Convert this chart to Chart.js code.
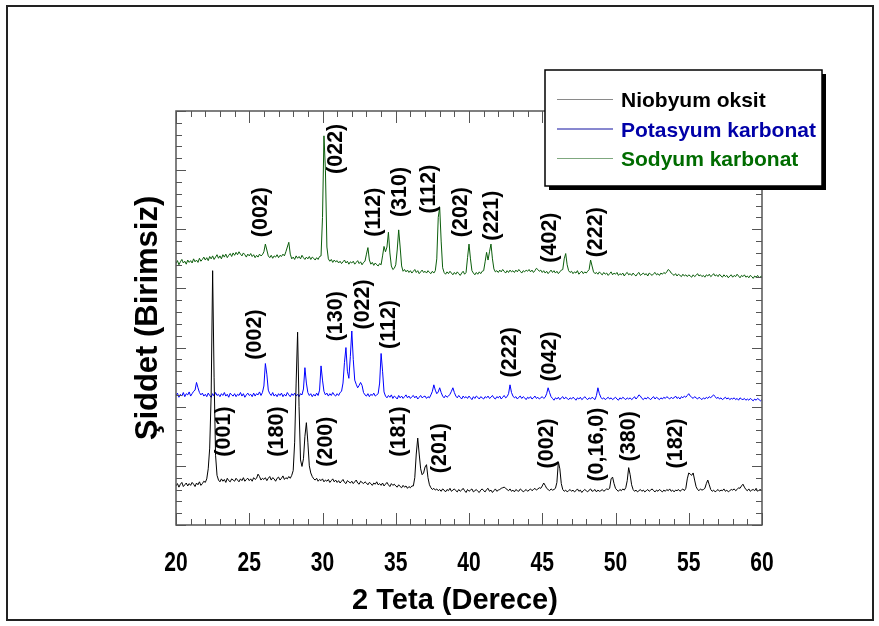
<!DOCTYPE html>
<html>
<head>
<meta charset="utf-8">
<script src="https://cdn.jsdelivr.net/npm/chart.js@4.4.1/dist/chart.umd.min.js"></script>
<style>
  html, body { margin: 0; padding: 0; background: #fff; overflow: hidden; }
  canvas { display: block; }
</style>
</head>
<body>
<canvas id="xrd" width="879" height="626"></canvas>
<script>
// XRD scans, sampled every 0.1 degree of 2-theta from 20 to 60
const twoThetaStart = 20;
const twoThetaStep = 0.1;

const niobyumOksit = [
  66,70,64,69,72,65,68,71,66,70,
  67,72,69,65,71,68,73,67,70,74,
  72,78,95,130,220,430,250,118,84,76,
  73,78,74,77,72,79,75,73,78,76,
  74,79,76,73,78,75,80,74,77,79,
  75,78,74,80,77,79,86,82,76,79,
  77,80,75,79,82,76,80,78,74,79,
  81,76,79,83,77,80,78,82,79,84,
  92,140,240,326,200,110,99,112,150,173,
  140,100,88,82,78,76,79,74,77,75,
  78,73,76,74,77,72,75,78,73,76,
  72,75,71,74,77,72,70,75,73,71,
  74,70,73,76,71,69,74,72,70,73,
  71,68,72,70,67,71,69,73,68,70,
  67,71,66,69,72,68,65,70,67,69,
  66,64,68,65,63,67,64,66,62,65,
  63,66,66,80,120,147,120,95,85,88,
  98,102,80,68,63,60,62,59,61,58,
  60,57,61,59,56,60,58,62,57,59,
  61,58,56,60,57,59,62,58,55,60,
  57,59,61,56,58,60,57,55,59,61,
  58,56,60,62,57,59,55,58,61,57,
  59,60,62,63,64,62,60,58,61,57,
  59,56,60,58,57,61,59,56,58,60,
  57,59,61,58,60,62,59,61,63,62,
  66,71,67,62,60,58,61,59,60,62,
  72,107,95,70,60,57,59,56,58,60,
  57,59,56,58,61,57,59,55,58,60,
  58,56,59,61,57,58,60,56,59,57,
  58,60,57,59,61,60,62,78,81,70,
  62,59,57,60,58,61,59,63,75,97,
  85,68,60,57,59,56,58,60,57,59,
  56,58,60,57,59,61,58,56,59,57,
  60,58,56,59,57,60,58,61,57,59,
  56,59,58,60,57,59,61,58,62,78,
  88,86,84,88,76,65,60,58,61,59,
  60,62,70,76,68,60,57,59,56,58,
  60,57,59,58,61,57,59,56,58,60,
  59,61,58,60,63,62,66,69,64,60,
  58,61,57,59,60,58,62,57,59,60,
  58
];

const potasyumKarbonat = [
  219,223,216,221,218,224,217,222,220,225,
  218,222,226,228,241,232,224,220,223,218,
  221,217,223,219,216,222,218,224,219,221,
  217,222,219,224,218,221,216,223,220,218,
  222,217,221,219,224,218,222,216,220,223,
  219,221,217,223,218,222,220,225,219,224,
  235,273,255,228,222,219,224,218,221,217,
  222,219,223,217,221,218,224,220,217,222,
  219,223,218,221,217,222,220,230,266,240,
  224,219,222,217,221,218,223,219,228,269,
  245,226,220,223,218,222,219,224,220,218,
  222,219,224,226,240,275,300,260,248,285,
  328,280,245,238,232,236,241,236,224,220,
  218,222,217,221,219,223,218,220,222,240,
  290,260,225,218,215,219,216,220,214,218,
  216,213,219,215,218,214,217,220,215,218,
  214,217,219,215,218,213,216,219,215,217,
  218,214,217,215,220,226,237,228,222,225,
  232,224,218,215,219,216,218,221,226,232,
  224,218,215,219,216,213,218,215,217,214,
  218,215,212,217,214,218,216,213,217,215,
  213,217,215,218,214,216,219,215,213,217,
  215,218,213,216,219,215,217,222,237,224,
  218,215,217,213,216,218,214,217,215,212,
  216,214,217,213,215,218,214,216,213,215,
  217,214,216,222,232,224,217,214,211,215,
  213,216,212,215,217,213,216,214,212,215,
  213,216,214,211,215,213,216,212,214,217,
  214,212,215,213,216,214,212,219,232,222,
  216,213,215,212,214,216,213,215,212,214,
  216,213,211,215,213,216,214,212,215,213,
  215,212,214,217,213,216,220,218,214,212,
  215,213,216,214,212,215,217,213,216,214,
  212,215,213,216,214,217,215,213,216,214,
  215,218,214,216,213,217,215,218,216,219,
  222,218,216,214,217,215,213,216,214,212,
  215,213,216,214,217,215,218,220,217,214,
  216,213,215,212,214,216,213,215,212,214,
  213,215,212,214,211,215,213,212,214,211,
  213,211,214,212,210,213,211,214,212,210,
  212
];

const sodyumKarbonat = [
  442,447,440,445,449,443,446,441,448,444,
  447,443,450,445,448,444,451,446,449,453,
  448,452,447,454,450,455,449,453,457,451,
  455,450,457,453,458,452,456,459,454,460,
  456,461,457,462,458,455,460,457,453,458,
  455,459,454,457,452,456,453,458,455,457,
  462,475,465,455,452,456,451,455,453,457,
  452,456,454,458,455,462,470,478,458,450,
  453,449,455,451,454,450,456,452,449,453,
  450,454,449,453,451,448,452,449,454,455,
  520,658,600,470,450,446,449,444,448,445,
  447,443,446,442,445,448,443,446,441,445,
  443,446,441,444,447,442,445,440,444,446,
  458,469,448,441,444,439,443,440,438,442,
  440,455,471,462,470,495,460,438,432,434,
  440,465,499,470,438,429,432,428,431,427,
  430,426,429,432,427,430,425,428,431,427,
  429,426,430,427,425,429,426,430,450,520,
  537,480,435,427,424,428,425,429,426,423,
  427,424,428,425,422,426,429,424,427,452,
  475,450,430,426,423,427,424,428,425,429,
  430,445,461,448,462,475,450,433,428,430,
  427,431,428,432,429,426,430,427,431,428,
  430,427,431,428,432,429,426,430,428,431,
  429,432,428,431,427,430,434,432,429,431,
  427,430,426,429,425,428,431,427,430,426,
  429,425,428,431,432,450,459,440,430,427,
  429,425,428,426,430,424,427,429,425,428,
  426,429,432,448,438,428,425,427,424,428,
  425,423,427,424,426,422,425,428,423,426,
  424,427,422,425,423,426,421,425,427,423,
  425,422,426,423,421,425,427,422,424,426,
  423,425,421,426,424,422,425,427,423,425,
  422,426,424,427,425,428,432,430,426,424,
  422,425,421,424,422,420,424,421,423,420,
  423,421,419,423,420,422,425,421,423,420,
  422,419,423,421,424,420,422,425,421,423,
  420,424,421,419,423,420,422,418,421,423,
  419,422,420,424,421,418,422,420,423,419,
  421,418,422,420,417,421,419,422,418,420,
  421
];

const seriesNames = ['Niobyum oksit', 'Potasyum karbonat', 'Sodyum karbonat'];

// Miller-index annotations: text, 2-theta of the label centre, intensity of the label centre
const peakLabelText  = ['(002)','(022)','(112)','(310)','(112)','(202)','(221)','(402)','(222)',
                        '(002)','(130)','(022)','(112)','(222)','(042)',
                        '(001)','(180)','(200)','(181)','(201)','(002)','(0,16,0)','(380)','(182)'];
const peakLabelTheta = [25.78,30.9,33.52,35.29,37.27,39.43,41.55,45.53,48.65,
                        25.39,30.9,32.79,34.54,42.8,45.53,
                        23.28,26.87,30.22,35.24,38.02,45.34,48.76,50.94,54.13];
const peakLabelLevel = [529,636,529,563,568,529,523,486,495,
                        322,353,373,339,292,285,
                        158,158,141,158,130,138,136,150,138];

const toPoints = arr => arr.map((v, i) => ({ x: +(twoThetaStart + i * twoThetaStep).toFixed(1), y: v }));

const traceColors  = ['#000000', '#0000ff', '#0b5e0b'];
const legendLine   = ['#8a8a8a', '#1010a0', '#7fa87f'];
const legendText   = ['#000000', '#0000a8', '#006c00'];

const decorations = {
  id: 'decorations',
  beforeDraw(chart) {
    const c = chart.ctx;
    c.save();
    c.fillStyle = '#ffffff';
    c.fillRect(0, 0, chart.width, chart.height);
    c.strokeStyle = '#222';
    c.lineWidth = 2;
    c.strokeRect(7, 6, 866, 614);
    c.restore();
  },
  afterDatasetsDraw(chart) {
    const c = chart.ctx;
    const a = chart.chartArea;
    const xs = chart.scales.x, ys = chart.scales.y;
    c.save();
    // plot frame
    c.strokeStyle = '#555';
    c.lineWidth = 1.5;
    c.strokeRect(a.left, a.top, a.right - a.left, a.bottom - a.top);
    // inward tick marks on all four sides
    c.lineWidth = 1;
    c.beginPath();
    for (let v = xs.min; v <= xs.max; v += 1) {
      const px = Math.round(xs.getPixelForValue(v)) + 0.5;
      const len = v % 5 === 0 ? 12 : 6;
      c.moveTo(px, a.bottom); c.lineTo(px, a.bottom - len);
      c.moveTo(px, a.top); c.lineTo(px, a.top + len);
    }
    for (let v = ys.min; v <= ys.max; v += 20) {
      const py = Math.round(ys.getPixelForValue(v)) + 0.5;
      const len = v % 100 === 0 ? 10 : 6;
      c.moveTo(a.left, py); c.lineTo(a.left + len, py);
      c.moveTo(a.right, py); c.lineTo(a.right - len, py);
    }
    c.stroke();

    // 2-theta tick labels in a condensed bold face
    c.fillStyle = '#000';
    c.font = 'bold 27px "Liberation Sans", Arial, sans-serif';
    c.textAlign = 'center';
    c.textBaseline = 'middle';
    xs.ticks.forEach(t => {
      const px = xs.getPixelForValue(t.value);
      c.save();
      c.translate(px, 564);
      c.scale(0.78, 1);
      c.fillText(String(t.value), 0, 0);
      c.restore();
    });

    // peak annotations
    c.font = 'bold 21.5px "Liberation Sans", Arial, sans-serif';
    peakLabelText.forEach((t, i) => {
      const px = xs.getPixelForValue(peakLabelTheta[i]);
      const py = ys.getPixelForValue(peakLabelLevel[i]);
      c.save();
      c.translate(px, py);
      c.rotate(-Math.PI / 2);
      c.fillText(t, 0, 0);
      c.restore();
    });

    // axis titles
    c.font = 'bold 29px "Liberation Sans", Arial, sans-serif';
    c.fillText('2 Teta (Derece)', 455, 601);
    c.save();
    c.translate(148, 318);
    c.rotate(-Math.PI / 2);
    c.font = 'bold 31px "Liberation Sans", Arial, sans-serif';
    c.fillText('Şiddet (Birimsiz)', 0, 0);
    c.restore();

    // legend box with drop shadow
    const lx = 545, ly = 70, lw = 277, lh = 116;
    c.fillStyle = '#000';
    c.fillRect(lx + 4, ly + 4, lw, lh);
    c.fillStyle = '#fff';
    c.fillRect(lx, ly, lw, lh);
    c.strokeStyle = '#000';
    c.lineWidth = 1.5;
    c.strokeRect(lx, ly, lw, lh);
    c.font = 'bold 21px "Liberation Sans", Arial, sans-serif';
    c.textAlign = 'left';
    c.textBaseline = 'alphabetic';
    chart.data.datasets.forEach((ds, i) => {
      const rowY = 99 + i * 29.5;
      c.strokeStyle = legendLine[i];
      c.lineWidth = 1;
      c.beginPath();
      c.moveTo(557, rowY + 0.5); c.lineTo(613, rowY + 0.5);
      c.stroke();
      c.fillStyle = legendText[i];
      c.fillText(ds.label, 621, rowY + 8);
    });
    c.restore();
  }
};

new Chart(document.getElementById('xrd'), {
  type: 'line',
  data: {
    datasets: [niobyumOksit, potasyumKarbonat, sodyumKarbonat].map((arr, i) => ({
      label: seriesNames[i],
      data: toPoints(arr),
      borderColor: traceColors[i],
      borderWidth: 1,
      pointRadius: 0,
      tension: 0,
      fill: false
    }))
  },
  options: {
    responsive: false,
    devicePixelRatio: 1,
    animation: false,
    layout: { padding: { left: 176, right: 117, top: 111, bottom: 0 } },
    plugins: { legend: { display: false }, tooltip: { enabled: false } },
    scales: {
      x: {
        type: 'linear',
        min: 20, max: 60,
        grid: { display: false },
        border: { display: false },
        ticks: { stepSize: 5, autoSkip: false, maxRotation: 0, display: false },
        afterFit(scale) { scale.height = 101; }
      },
      y: {
        display: false,
        min: 0, max: 700
      }
    }
  },
  plugins: [decorations]
});
</script>
</body>
</html>
